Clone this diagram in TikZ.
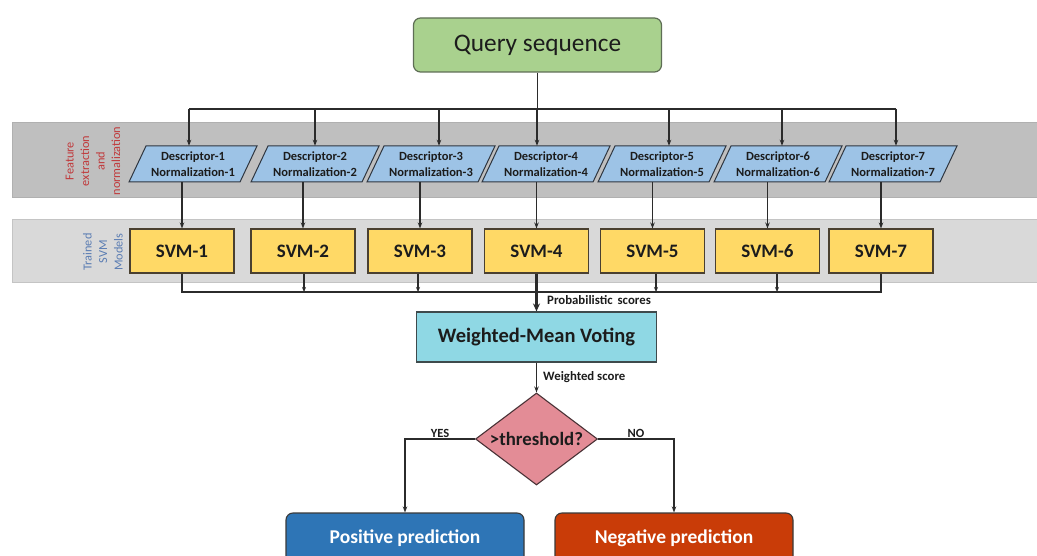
\documentclass[tikz,border=0pt]{standalone}
\usepackage{fontspec}
\setmainfont{Carlito}
\usetikzlibrary{shapes.geometric,arrows.meta,calc}

\definecolor{linecol}{HTML}{2B2B2B}
\definecolor{bandA}{HTML}{BFBFBF}
\definecolor{bandAedge}{HTML}{B0B0B0}
\definecolor{bandB}{HTML}{D9D9D9}
\definecolor{bandBedge}{HTML}{C4C4C4}
\definecolor{queryfill}{HTML}{A9D18E}
\definecolor{queryedge}{HTML}{5E6E55}
\definecolor{descfill}{HTML}{9DC3E6}
\definecolor{descedge}{HTML}{2F3640}
\definecolor{svmfill}{HTML}{FFD966}
\definecolor{svmedge}{HTML}{4A4030}
\definecolor{votefill}{HTML}{8FD8E4}
\definecolor{voteedge}{HTML}{3E4A4C}
\definecolor{decfill}{HTML}{E38C96}
\definecolor{decedge}{HTML}{4A3236}
\definecolor{posfill}{HTML}{2E75B6}
\definecolor{negfill}{HTML}{C93C08}
\definecolor{boxedge}{HTML}{3A3A3A}
\definecolor{txt}{HTML}{1C1C1C}
\definecolor{redlabel}{HTML}{C0393B}
\definecolor{bluelabel}{HTML}{5B7DB3}

\begin{document}
\begin{tikzpicture}[x=1pt,y=-1pt,
  line/.style={draw=linecol,line width=1.1pt},
  arr/.style={line,-{Stealth[length=6pt,width=4.5pt]}},
  smallarr/.style={line,-{Stealth[length=5pt,width=4pt]}},
  bigarr/.style={draw=linecol,line width=2.6pt,-{Stealth[length=8pt,width=7pt]}},
  querybox/.style={draw=queryedge,line width=1.2pt,fill=queryfill,rounded corners=7pt,
    minimum width=248pt,minimum height=54pt,inner sep=0pt,text=txt,
    font=\fontsize{25.3}{28}\selectfont},
  descshape/.style={draw=descedge,line width=1pt,fill=descfill},
  desctext/.style={inner sep=0pt,minimum width=108pt,minimum height=36pt,align=center,
    text=txt,font=\bfseries\fontsize{12.5}{16}\selectfont},
  svmbox/.style={draw=svmedge,line width=1.1pt,fill=svmfill,minimum width=104pt,
    minimum height=44pt,inner sep=0pt,text=txt,font=\bfseries\fontsize{19}{22}\selectfont},
  votebox/.style={draw=voteedge,line width=1.1pt,fill=votefill,minimum width=240pt,
    minimum height=50pt,inner sep=0pt,text=txt,font=\bfseries\fontsize{20.5}{23}\selectfont},
  decision/.style={diamond,aspect=1.33,draw=decedge,line width=1.1pt,fill=decfill,
    minimum width=122pt,minimum height=92pt,inner sep=0pt,text=txt,
    font=\bfseries\fontsize{18.8}{21}\selectfont},
  outbox/.style={draw=boxedge,line width=1.1pt,rounded corners=7pt,minimum width=238pt,
    minimum height=50pt,inner sep=0pt,text=white,font=\bfseries\fontsize{19.5}{22}\selectfont},
  smalllabel/.style={inner sep=0pt,text=txt,font=\bfseries\fontsize{12.8}{14}\selectfont},
  branchlabel/.style={above=1pt,inner sep=0pt,text=txt,font=\bfseries\fontsize{12.5}{14}\selectfont},
  bandlabel/.style={rotate=90,align=center,inner sep=0pt}]

\useasboundingbox (0,0) rectangle (1037,556);
\fill[white] (0,0) rectangle (1037,556);

% stage bands
\path[fill=bandA,draw=bandAedge,line width=0.8pt] (12,122.5) rectangle (1040,197);
\path[fill=bandB,draw=bandBedge,line width=0.8pt] (12,219) rectangle (1040,282);

\node[bandlabel,text=redlabel,font=\fontsize{12.3}{15.5}\selectfont] (lblfeat) at (93,161)
  {Feature\\extraction\\and\\normalization};
\node[bandlabel,text=bluelabel,font=\fontsize{12.3}{15.5}\selectfont] (lblsvm) at (103,252)
  {Trained\\SVM\\Models};

% input
\node[querybox] (q) at (537.5,45) {Query sequence};
\coordinate (topbus) at (0,109);
\coordinate (bus) at (0,292);

% descriptors: index / centre x / x offset of the incoming arrow
\foreach \i/\cx/\ax in {1/193/-4,2/315/0,3/431/8,4/546/-9,5/662/7,6/778/4,7/893/3}{
  \path[descshape] (\cx-64,182) -- (\cx+47,182) -- (\cx+64,146) -- (\cx-47,146) -- cycle;
  \node[desctext] (d\i) at (\cx,164) {Descriptor-\i\\Normalization-\i};
  \coordinate (din\i) at ($(d\i.north)+(\ax,0)$);
}

% trained models
\foreach \i/\cx in {1/182,2/303,3/420,4/536.5,5/652.5,6/767.5,7/881}{
  \node[svmbox] (s\i) at (\cx,251) {SVM-\i};
}

% fan-out from the query
\draw[line] (q.south) -- (q.south |- topbus);
\draw[line] (din1 |- topbus) -- (din7 |- topbus);
\foreach \i in {1,...,7}{
  \draw[arr] (din\i |- topbus) -- (din\i);
  \draw[arr] (s\i.north |- d\i.south) -- (s\i.north);
}

% collecting the scores
\node[votebox] (w) at (536.5,337) {Weighted-Mean Voting};
\draw[line] (s1.south) -- (s1.south |- bus) -- (s7.south |- bus) -- (s7.south);
\foreach \i/\ox in {2/1,3/-2,5/3.5,6/9.5}{
  \draw[smallarr] ([xshift=\ox pt]s\i.south) -- ([xshift=\ox pt]s\i.south |- bus);
}
\draw[bigarr] (s4.south) -- (w.north);
\node[smalllabel,anchor=west] (lblprob) at (547,300) {Probabilistic\, scores};

% decision
\node[decision] (t) at (536.5,439) {>threshold?};
\draw[arr] (w.south) -- (t.north);
\node[smalllabel,anchor=west] (lblws) at (543,377) {Weighted score};

\node[outbox,fill=posfill] (pos) at (405,538) {Positive prediction};
\node[outbox,fill=negfill] (neg) at (674,538) {Negative prediction};

\draw[arr] (t.west) -| node[branchlabel,pos=0.25] (lblyes) {YES} (pos.north);
\draw[arr] (t.east) -| node[branchlabel,pos=0.25] (lblno) {NO} (neg.north);

\end{tikzpicture}
\end{document}
